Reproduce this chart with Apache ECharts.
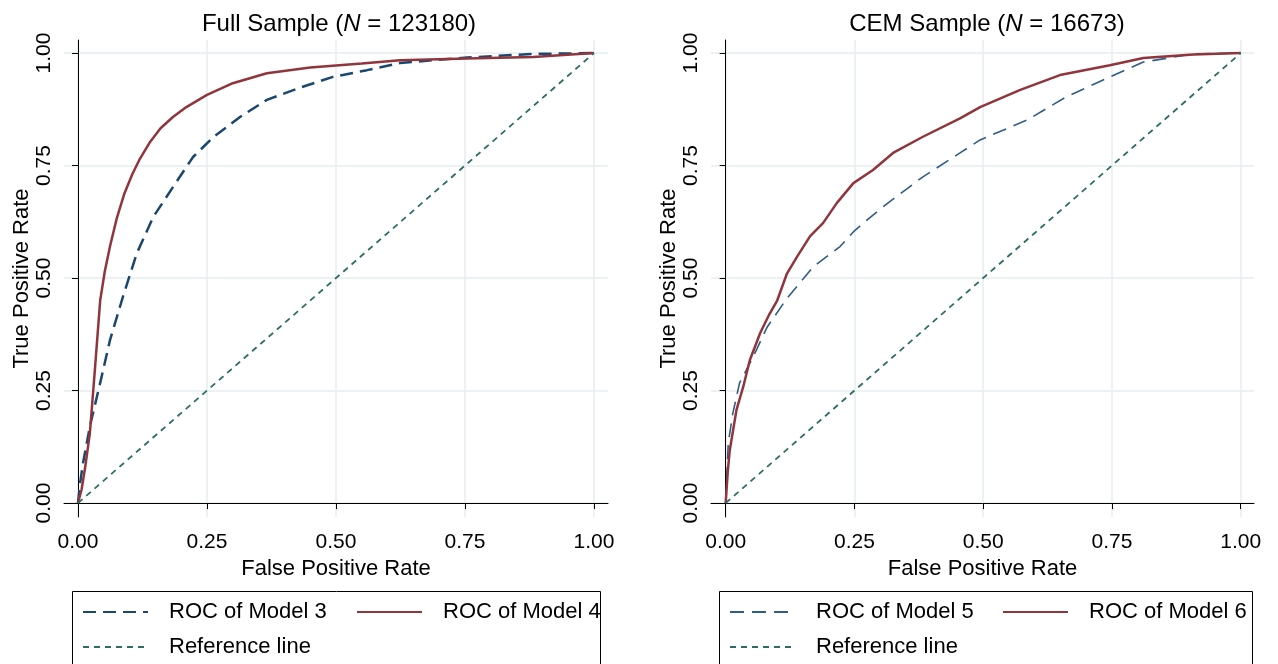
<!DOCTYPE html>
<html>
<head>
<meta charset="utf-8">
<title>ROC curves</title>
<script src="https://cdn.jsdelivr.net/npm/echarts@6/dist/echarts.min.js"></script>
<style>
  html, body { margin: 0; padding: 0; background: #fff; }
  #main { width: 1278px; height: 664px; }
</style>
</head>
<body>
<div id="main"></div>
<script>
// 刻度
var ticks = [0, 0.25, 0.5, 0.75, 1];

// Full Sample 面板
var m3x = [0, 0.004, 0.01, 0.023, 0.043, 0.062, 0.087, 0.114, 0.146, 0.184, 0.223, 0.262, 0.314, 0.366, 0.43, 0.494, 0.56, 0.624, 0.688, 0.754, 0.882, 1];
var m3y = [0, 0.044, 0.09, 0.17, 0.267, 0.362, 0.458, 0.555, 0.636, 0.702, 0.769, 0.813, 0.858, 0.896, 0.923, 0.947, 0.962, 0.978, 0.984, 0.99, 0.998, 1];
var m4x = [0, 0.007, 0.014, 0.023, 0.033, 0.043, 0.052, 0.062, 0.075, 0.09, 0.105, 0.12, 0.14, 0.16, 0.184, 0.21, 0.25, 0.30, 0.366, 0.45, 0.55, 0.624, 0.754, 0.882, 1];
var m4y = [0, 0.03, 0.08, 0.155, 0.30, 0.45, 0.515, 0.57, 0.632, 0.688, 0.73, 0.765, 0.803, 0.833, 0.858, 0.88, 0.907, 0.933, 0.955, 0.968, 0.977, 0.984, 0.988, 0.991, 1];

// CEM Sample 面板
var m5x = [0, 0.005, 0.014, 0.027, 0.053, 0.08, 0.119, 0.17, 0.222, 0.25, 0.286, 0.313, 0.383, 0.455, 0.494, 0.585, 0.662, 0.746, 0.811, 0.908, 1];
var m5y = [0, 0.133, 0.2, 0.267, 0.324, 0.39, 0.455, 0.525, 0.57, 0.605, 0.64, 0.665, 0.725, 0.778, 0.807, 0.851, 0.903, 0.947, 0.98, 0.998, 1];
var m6x = [0, 0.004, 0.008, 0.021, 0.034, 0.047, 0.067, 0.085, 0.1, 0.119, 0.139, 0.164, 0.189, 0.216, 0.248, 0.286, 0.325, 0.383, 0.455, 0.494, 0.572, 0.649, 0.746, 0.811, 0.908, 1];
var m6y = [0, 0.07, 0.118, 0.207, 0.258, 0.318, 0.378, 0.42, 0.45, 0.51, 0.548, 0.593, 0.622, 0.667, 0.711, 0.74, 0.778, 0.814, 0.855, 0.88, 0.918, 0.951, 0.973, 0.989, 0.997, 1];

var refX = [0, 1];
var refY = [0, 1];

function pairs(xs, ys) {
  return xs.map(function (v, i) { return [v, ys[i]]; });
}

var font = "'Liberation Sans', Arial, sans-serif";
var navy = '#1a476f';
var maroon = '#90353b';
var teal = '#2d6d65';

function xAxisOf(idx, min, max) {
  return {
    gridIndex: idx, type: 'value', min: min, max: max,
    name: 'False Positive Rate', nameLocation: 'middle', nameGap: 37,
    nameTextStyle: { color: '#000', fontSize: 22, fontFamily: font },
    axisLine: { show: true, lineStyle: { color: '#000', width: 1 } },
    axisTick: { show: true, length: 6, customValues: ticks, lineStyle: { color: '#000' } },
    axisLabel: { customValues: ticks, margin: 15, color: '#000', fontSize: 21, fontFamily: font,
      formatter: function (v) { return v.toFixed(2); } },
    splitLine: { show: true, lineStyle: { color: '#e6eef1', width: 1.5 } }
  };
}

function yAxisOf(idx) {
  return {
    gridIndex: idx, type: 'value', min: -0.031, max: 1.029,
    name: 'True Positive Rate', nameLocation: 'middle', nameGap: 25, nameRotate: 90,
    nameTextStyle: { color: '#000', fontSize: 22, fontFamily: font },
    axisLine: { show: true, lineStyle: { color: '#000', width: 1 } },
    axisTick: { show: true, length: 6, customValues: ticks, lineStyle: { color: '#000' } },
    axisLabel: { customValues: ticks, rotate: 90, margin: 9, color: '#000', fontSize: 21, fontFamily: font,
      formatter: function (v) { return v.toFixed(2); } },
    splitLine: { show: true, lineStyle: { color: '#e6eef1', width: 1.5 } }
  };
}

function lineSeries(name, idx, data, color, width, dash) {
  return {
    name: name, type: 'line', xAxisIndex: idx, yAxisIndex: idx,
    data: data, symbol: 'none', silent: true, animation: false,
    lineStyle: { color: color, width: width, type: dash },
    itemStyle: { color: color }
  };
}

function legendOf(name, left, top) {
  return {
    data: [name], left: left, top: top, orient: 'horizontal', padding: 0,
    itemWidth: 65, itemHeight: 14, selectedMode: false,
    itemStyle: { opacity: 0 },
    textStyle: { color: '#000', fontSize: 22, fontFamily: font, padding: [0, 0, 0, 16] }
  };
}

function titleOf(pre, n, x) {
  return {
    text: '{a|' + pre + ' (}{i|N}{a| = ' + n + ')}',
    left: x, top: 7, textAlign: 'center',
    textStyle: {
      fontWeight: 'normal',
      rich: {
        a: { fontSize: 24, color: '#000', fontFamily: font, fontWeight: 'normal' },
        i: { fontSize: 24, color: '#000', fontFamily: font, fontWeight: 'normal', fontStyle: 'italic' }
      }
    }
  };
}

var myChart = echarts.init(document.getElementById('main'), null, { renderer: 'canvas' });

var option = {
  backgroundColor: '#fff',
  animation: false,
  title: [
    titleOf('Full Sample', '123180', 334),
    titleOf('CEM Sample', '16673', 982)
  ],
  grid: [
    { left: 64, top: 40, width: 544, height: 477 },
    { left: 711, top: 40, width: 543, height: 477 }
  ],
  xAxis: [xAxisOf(0, -0.0271, 1.0271), xAxisOf(1, -0.0285, 1.0258)],
  yAxis: [yAxisOf(0), yAxisOf(1)],
  legend: [
    legendOf('ROC of Model 3', 82, 601),
    legendOf('ROC of Model 4', 356, 601),
    legendOf('Reference line', 82, 636),
    legendOf('ROC of Model 5', 729, 601),
    legendOf('ROC of Model 6', 1002, 601),
    legendOf('Reference line', 729, 636)
  ],
  series: [
    lineSeries('ROC of Model 3', 0, pairs(m3x, m3y), navy, 2.5, [13, 7]),
    lineSeries('ROC of Model 4', 0, pairs(m4x, m4y), maroon, 2.5, 'solid'),
    lineSeries('Reference line', 0, pairs(refX, refY), teal, 1.8, [6, 5]),
    lineSeries('ROC of Model 5', 1, pairs(m5x, m5y), '#305c86', 1.6, [14, 8]),
    lineSeries('ROC of Model 6', 1, pairs(m6x, m6y), maroon, 2.5, 'solid'),
    lineSeries('Reference line', 1, pairs(refX, refY), teal, 1.8, [6, 5])
  ],
  // 图例外框
  graphic: [
    { type: 'rect', shape: { x: 72.5, y: 591.5, width: 528, height: 80 },
      style: { fill: 'none', stroke: '#000', lineWidth: 1 }, silent: true },
    { type: 'rect', shape: { x: 719.5, y: 591.5, width: 533, height: 80 },
      style: { fill: 'none', stroke: '#000', lineWidth: 1 }, silent: true }
  ]
};

myChart.setOption(option);
</script>
</body>
</html>
